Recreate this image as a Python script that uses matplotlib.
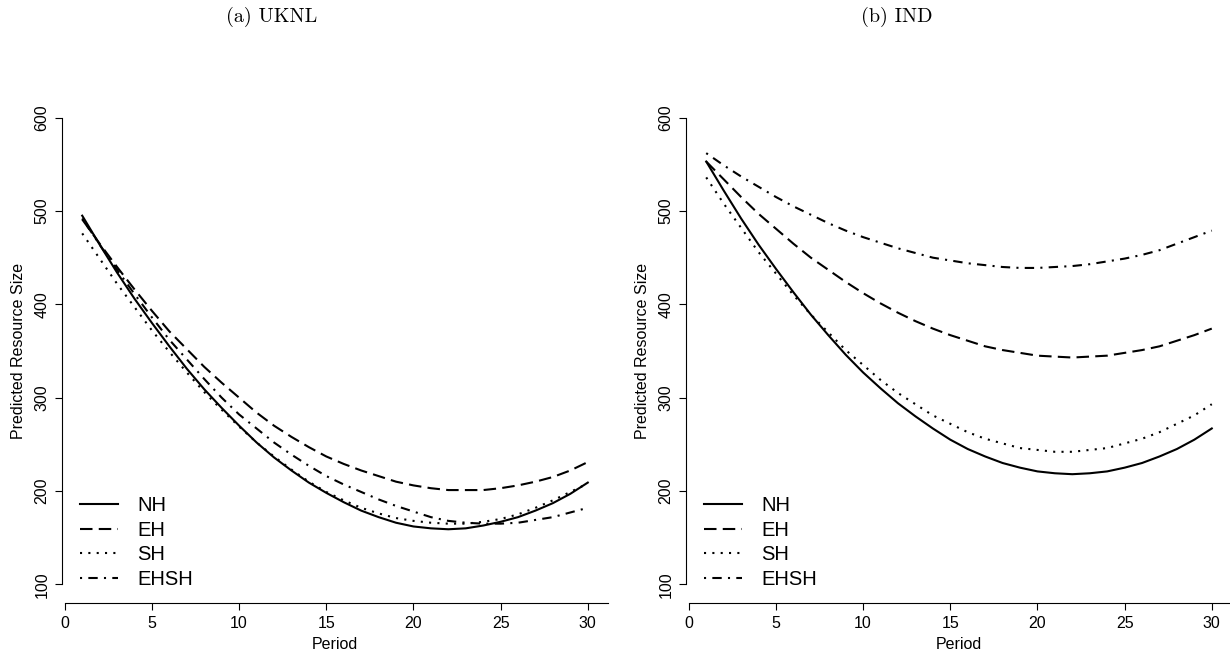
import numpy as np
import matplotlib.pyplot as plt

plt.rcParams['font.family'] = ['Liberation Sans', 'DejaVu Sans']

period = np.arange(1, 31)

# UKNL predicted resource size per period
uknl_nh = [495, 464, 434, 406, 380, 355, 331, 309, 289, 270,
           252, 236, 222, 209, 198, 188, 179, 172, 166, 162,
           160, 159, 160, 163, 167, 172, 179, 187, 197, 209]
uknl_eh = [491, 465, 440, 416, 393, 371, 352, 333, 316, 300,
           284, 270, 258, 247, 237, 229, 222, 216, 210, 206,
           203, 201, 201, 201, 203, 206, 210, 215, 222, 231]
uknl_sh = [476, 449, 422, 397, 372, 349, 327, 306, 287, 269,
           252, 237, 223, 210, 199, 190, 182, 176, 171, 168,
           166, 165, 165, 167, 170, 175, 182, 190, 199, 208]
uknl_ehsh = [492, 464, 437, 411, 386, 362, 341, 320, 300, 282,
             267, 252, 239, 227, 216, 207, 199, 191, 184, 178,
             172, 168, 166, 165, 165, 166, 169, 172, 177, 182]

# IND predicted resource size per period
ind_nh = [553, 522, 492, 464, 438, 413, 389, 367, 346, 327,
          310, 294, 280, 267, 255, 245, 237, 230, 225, 221,
          219, 218, 219, 221, 225, 230, 237, 245, 255, 267]
ind_eh = [553, 534, 515, 497, 481, 465, 450, 437, 424, 412,
          401, 391, 382, 374, 367, 361, 355, 351, 348, 345,
          344, 343, 344, 345, 348, 351, 355, 361, 367, 374]
ind_sh = [536, 508, 482, 456, 433, 410, 389, 370, 351, 335,
          319, 305, 293, 281, 272, 263, 256, 251, 246, 244,
          242, 242, 244, 246, 251, 256, 263, 272, 281, 293]
ind_ehsh = [562, 549, 537, 526, 515, 505, 496, 487, 479, 472,
            466, 460, 455, 450, 447, 444, 442, 440, 439, 439,
            440, 441, 443, 446, 449, 453, 458, 465, 472, 479]

labels = ['NH', 'EH', 'SH', 'EHSH']
styles = ['-', (0, (6, 3)), (0, (1, 3)), (0, (1, 3, 4.5, 3))]
panels = [('(a) UKNL', [uknl_nh, uknl_eh, uknl_sh, uknl_ehsh]),
          ('(b) IND', [ind_nh, ind_eh, ind_sh, ind_ehsh])]

W, H = 1230, 658
fig = plt.figure(figsize=(W / 100, H / 100), dpi=100)
lefts = [62, 686]
title_x = [272, 897]

for i, (title, series) in enumerate(panels):
    ax = fig.add_axes([lefts[i] / W, 55 / H, 546 / W, 504 / H])
    for y, lab, ls in zip(series, labels, styles):
        ax.plot(period, y, color='black', lw=1.5, linestyle=ls, label=lab)
    ax.set_xlim(-0.16, 31.16)
    ax.set_ylim(80, 620)
    ax.set_xticks(range(0, 31, 5))
    ax.set_yticks(range(100, 601, 100))
    for side in ['top', 'right']:
        ax.spines[side].set_visible(False)
    ax.spines['left'].set_bounds(100, 600)
    ax.spines['bottom'].set_bounds(0, 31.16)
    for side in ['left', 'bottom']:
        ax.spines[side].set_linewidth(0.8)
    ax.tick_params(length=5, width=0.8, labelsize=11.5, pad=4)
    ax.tick_params(axis='y', labelrotation=90, pad=4)
    for t in ax.get_yticklabels():
        t.set_va('center')
    ax.set_xlabel('Period', fontsize=11.5, labelpad=5)
    ax.set_ylabel('Predicted Resource Size', fontsize=11.5, labelpad=6)
    ax.legend(loc='lower left', bbox_to_anchor=(0.033, 0.028), frameon=False,
              fontsize=14.5, handlelength=1.9, handletextpad=0.95,
              labelspacing=0.28, borderpad=0, borderaxespad=0)
    fig.text(title_x[i] / W, 1 - 17 / H, title, family='cmr10',
             fontsize=14.5, ha='center', va='center')

fig.savefig('out.png', dpi=100)
